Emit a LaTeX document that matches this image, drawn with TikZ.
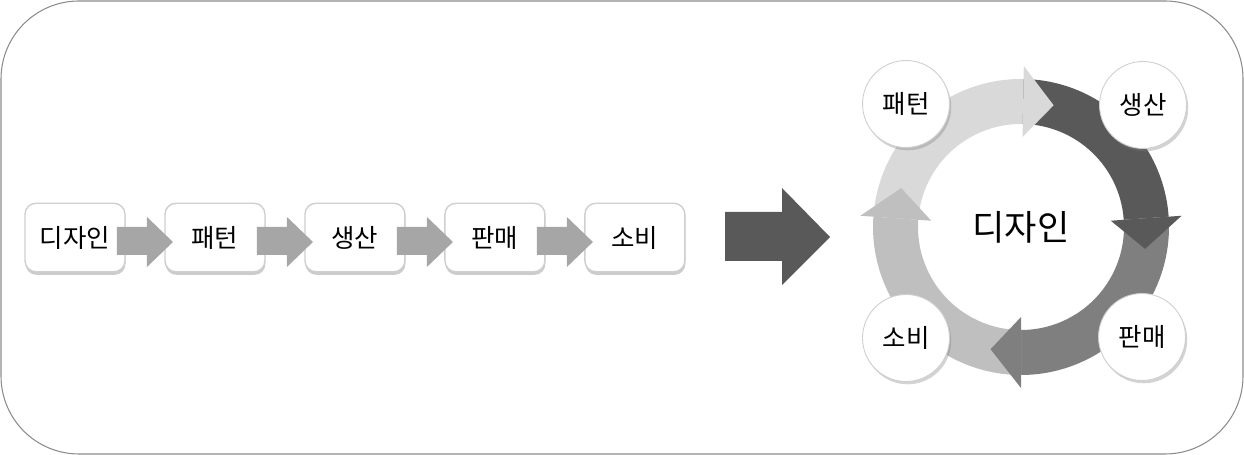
\documentclass[tikz,border=0pt]{standalone}
\usepackage{fontspec}
\setmainfont{Noto Sans CJK KR}
\usepackage{xcolor}
\usetikzlibrary{positioning,shadows,calc}

\definecolor{framegray}{HTML}{8C8C8C}
\definecolor{boxline}{HTML}{CFCFCF}
\definecolor{flowgray}{HTML}{A6A6A6}
\definecolor{bigarrow}{HTML}{595959}
\definecolor{ringlight}{HTML}{D9D9D9}
\definecolor{ringdark}{HTML}{595959}
\definecolor{ringmid}{HTML}{7F7F7F}
\definecolor{ringsoft}{HTML}{BFBFBF}

% one piece of the ring, and its head
\newcommand{\ringpart}[3]{\fill[#1] ($(C)+(#2:148)$) arc[start angle=#2, end angle=#3, radius=148] -- ($(C)+(#3:103)$) arc[start angle=#3, end angle=#2, radius=103] -- cycle;}
\newcommand{\ringhead}[2]{\fill[#1] ($(C)+(#2:90)$) -- ($(C)+(#2-14:126)$) -- ($(C)+(#2:161)$) -- cycle;}

\begin{document}
\begin{tikzpicture}[x=0.02cm,y=0.02cm,
    stepbox/.style={draw=boxline, line width=0.8pt, fill=white, rounded corners=0.22cm,
      minimum width=2cm, minimum height=1.37cm, inner sep=0pt, outer sep=0pt,
      font=\fontsize{14.5}{17}\selectfont,
      drop shadow={shadow xshift=0.3pt, shadow yshift=-1.8pt, opacity=0.4}},
    stepdot/.style={circle, draw=boxline, line width=0.5pt, fill=white, minimum size=1.74cm,
      inner sep=0pt, font=\fontsize{14.5}{17}\selectfont,
      drop shadow={shadow xshift=1pt, shadow yshift=-1.6pt, opacity=0.35}}]
    \useasboundingbox (0,0) rectangle (1244,455);
    % Frame
    \draw[framegray, line width=0.6pt, rounded corners=1.56cm] (1,1) rectangle (1243,454);

    % Chain of steps
    \node[stepbox] (b-design) at (75,217.5) {디자인};
    \node[stepbox, right=0.8cm of b-design] (b-pattern) {패턴};
    \node[stepbox, right=0.8cm of b-pattern] (b-prod) {생산};
    \node[stepbox, right=0.8cm of b-prod] (b-sale) {판매};
    \node[stepbox, right=0.8cm of b-sale] (b-use) {소비};
    \foreach \a/\b in {b-design/b-pattern, b-pattern/b-prod, b-prod/b-sale, b-sale/b-use}
      \fill[flowgray] ([shift={(-8,10.5)}]\a.east) -- ([shift={(-18,10.5)}]\b.west)
        -- ([shift={(-18,20.5)}]\b.west) -- ([shift={(8,-4.5)}]\b.west)
        -- ([shift={(-18,-29.5)}]\b.west) -- ([shift={(-18,-17.5)}]\b.west)
        -- ([shift={(-8,-17.5)}]\a.east) -- cycle;

    % Big arrow
    \fill[bigarrow] (725,243) -- (782,243) -- (782,267) -- (830,218) -- (782,170)
      -- (782,194) -- (725,194) -- cycle;

    % Cycle
    \coordinate (C) at (1021,228);
    \ringpart{ringlight}{176}{89}
    \ringpart{ringdark}{89}{4}
    \ringpart{ringmid}{4}{-90}
    \ringpart{ringsoft}{-90}{-184}
    \ringhead{ringlight}{89}
    \ringhead{ringdark}{4}
    \ringhead{ringmid}{-90}
    \ringhead{ringsoft}{176}

    \node[font=\fontsize{20}{24}\selectfont] (c-design) at (C) {디자인};
    \node[stepdot] (c-pattern) at (906,351) {패턴};
    \node[stepdot] (c-prod) at (1143,350) {생산};
    \node[stepdot] (c-sale) at (1142,118) {판매};
    \node[stepdot] (c-use) at (906,117) {소비};
  \end{tikzpicture}
\end{document}
